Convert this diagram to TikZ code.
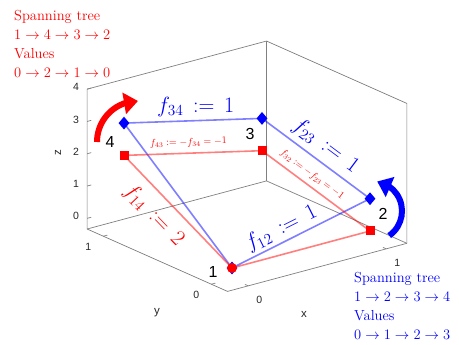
\RequirePackage{fix-cm}
\documentclass[tikz,border=0pt]{standalone}
\usepackage{fontspec}
\setsansfont{Liberation Sans}
\usetikzlibrary{arrows.meta,shapes.geometric,bending}
\definecolor{cblue}{HTML}{0000FF}
\definecolor{cred}{HTML}{FF0000}
\definecolor{caxis}{HTML}{262626}
\tikzset{
  boxline/.style={draw=black!50, line width=0.7pt},
  ticklab/.style={font=\sffamily\fontsize{10.5}{12}\selectfont, text=caxis, inner sep=0pt},
  axlab/.style={font=\sffamily\fontsize{11.5}{13}\selectfont, text=caxis, inner sep=0pt},
  bedge/.style={line width=1.6pt, draw=cblue, opacity=0.5},
  redge/.style={line width=1.6pt, draw=cred, opacity=0.5},
  bmark/.style={diamond, fill=cblue, inner sep=0pt, minimum width=11pt, minimum height=13pt},
  rmark/.style={rectangle, fill=cred, inner sep=0pt, minimum size=9pt},
  rdot/.style={circle, fill=cred, inner sep=0pt, minimum size=10pt},
  vlab/.style={font=\sffamily\fontsize{16}{18}\selectfont, inner sep=0pt},
  fbig/.style={font=\fontsize{22}{26}\selectfont, inner sep=0pt},
  fsmall/.style={font=\fontsize{10}{12}\selectfont, text=cred, sloped, inner sep=0pt},
  legend/.style={font=\fontsize{14.5}{19}\selectfont, align=left, anchor=north west, inner sep=0pt},
  turn/.style={line width=6pt, -{Triangle[length=14pt,width=21pt,flex]}},
}

\begin{document}
\begin{tikzpicture}[x=1pt, y=-1pt]
  \useasboundingbox (0,0) rectangle (459,345);
  % axes box, data coordinates
  \begin{scope}[shift={(232,268)}, x={(138pt,37pt)}, y={(-108pt,48pt)}, z={(0pt,32.3pt)}]
    \draw[boxline] (-0.15,1.15,-0.33) -- (-0.15,-0.15,-0.33) -- (1.15,-0.15,-0.33) -- (1.15,-0.15,4)
      -- (1.15,1.15,4) -- (-0.15,1.15,4) -- cycle;
    \draw[boxline] (-0.15,1.15,-0.33) -- (1.15,1.15,-0.33) -- (1.15,-0.15,-0.33);
    \draw[boxline] (1.15,1.15,-0.33) -- (1.15,1.15,4);
    \foreach \t in {0,1} {
      \draw[boxline] (\t,-0.15,-0.33) -- (\t,-0.12,-0.33);
      \draw[boxline] (-0.15,\t,-0.33) -- (-0.12,\t,-0.33);
      \node[ticklab, xshift=11pt, yshift=-14pt] (xt\t) at (\t,-0.15,-0.33) {\t};
      \node[ticklab, xshift=-15pt, yshift=-11pt] (yt\t) at (-0.15,\t,-0.33) {\t};
    }
    \foreach \t in {0,...,4} {
      \draw[boxline] (-0.15,1.15,\t) -- (-0.12,1.15,\t);
      \node[ticklab, xshift=-11pt, yshift=2pt] (zt\t) at (-0.15,1.15,\t) {\t};
    }
    % blue tree 1-2-3-4
    \coordinate (b1) at (0,0,0);
    \coordinate (b2) at (1,0,1);
    \coordinate (b3) at (1,1,2);
    \coordinate (b4) at (0,1,3);
    % red tree 1-4-3-2
    \coordinate (r1) at (0,0,0);
    \coordinate (r2) at (1,0,0);
    \coordinate (r3) at (1,1,1);
    \coordinate (r4) at (0,1,2);
    \draw[bedge] (b1) -- (b2) -- (b3) -- (b4) -- cycle;
    \draw[redge] (r1) -- (r2) -- (r3) -- (r4) -- cycle;
    \foreach \i in {1,...,4} \node[bmark] (bm\i) at (b\i) {};
    \foreach \i in {2,3,4} \node[rmark] (rm\i) at (r\i) {};
    \node[rdot] (rm1) at (r1) {};
    % vertex numbers
    \node[vlab, xshift=-19pt, yshift=-4pt] (l1) at (b1) {1};
    \node[vlab, xshift=13pt, yshift=-15pt] (l2) at (b2) {2};
    \node[vlab, xshift=-12pt, yshift=-16pt] (l3) at (b3) {3};
    \node[vlab, xshift=-14pt, yshift=-19pt] (l4) at (b4) {4};
    % edge values
    \path (b4) -- node[fbig, text=cblue, pos=0.52, above=4pt] (f34) {$f_{34} \,:=\, 1$} (b3);
    \path (b3) -- node[fbig, sloped, text=cblue, pos=0.5, above=6pt] (f23) {$f_{23} \,:=\, 1$} (b2);
    \path (b1) -- node[fbig, sloped, text=cblue, pos=0.4, above=3pt] (f12) {$f_{12} \,:=\, 1$} (b2);
    \path (r4) -- node[fbig, sloped, text=cred, pos=0.41, below=10pt] (f14) {$f_{14} \,:=\, 2$} (r1);
    \path (r4) -- node[fsmall, pos=0.47, above=6pt] (f43) {$f_{43} := -f_{34} = -1$} (r3);
    \path (r3) -- node[fsmall, pos=0.405, above=6pt] (f32) {$f_{32} := -f_{23} = -1$} (r2);
  \end{scope}
  % axis names
  \node[axlab] (xlab) at (304,314) {x};
  \node[axlab] (ylab) at (157,313) {y};
  \node[axlab, rotate=90] (zlab) at (58,153) {z};
  % turning arrows
  \draw[turn, draw=cred] (97,142) arc[start angle=180, end angle=90, radius=41pt];
  \draw[turn, draw=cblue] (389.2,235.6) arc[start angle=-55, end angle=80, radius=30pt];
  % legends
  \node[legend, text=cred] (redtree) at (14,10) {Spanning tree\\$1 \to 4 \to 3 \to 2$\\Values\\$0 \to 2 \to 1 \to 0$};
  \node[legend, text=cblue] (bluetree) at (354,272) {Spanning tree\\$1 \to 2 \to 3 \to 4$\\Values\\$0 \to 1 \to 2 \to 3$};
\end{tikzpicture}
\end{document}
